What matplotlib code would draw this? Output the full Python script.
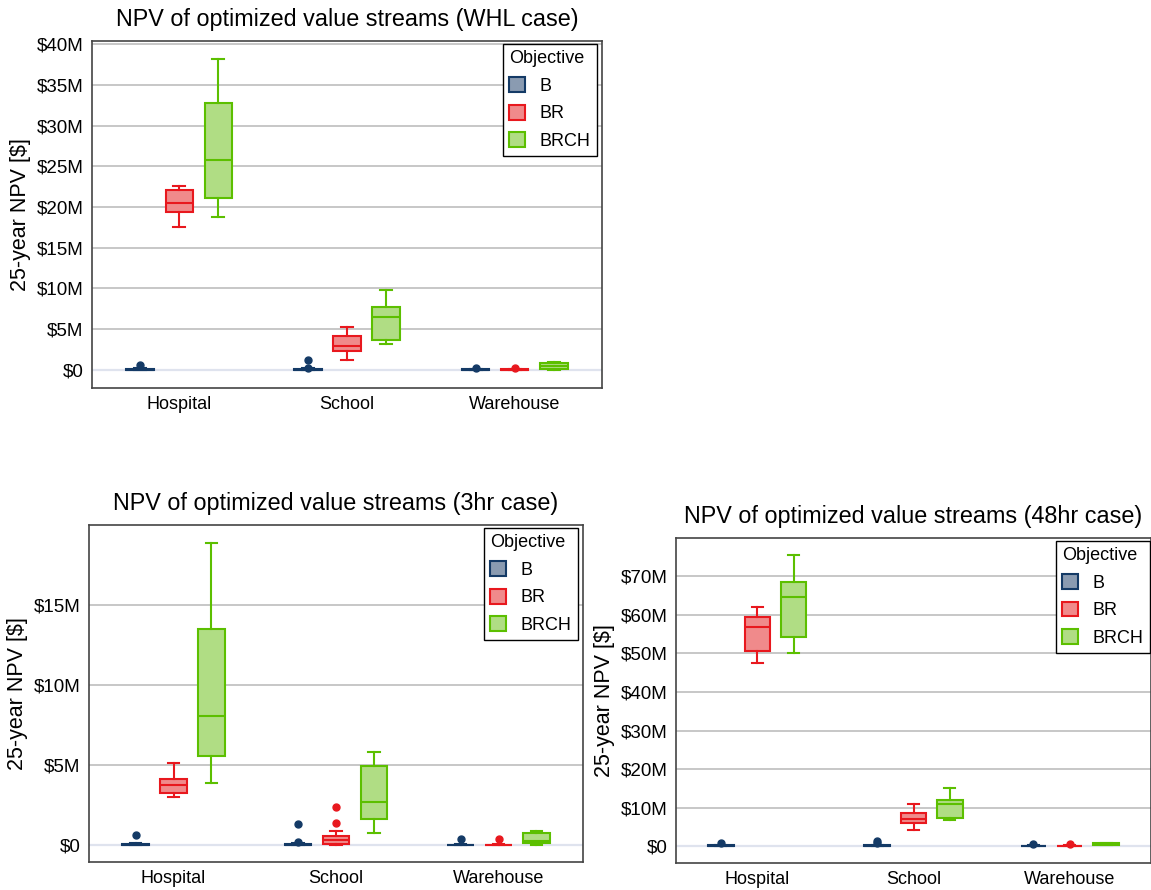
import matplotlib
matplotlib.use('Agg')
import matplotlib.pyplot as plt
from matplotlib.patches import Patch

plt.rcParams['font.family'] = ['Liberation Sans', 'DejaVu Sans']

# Категории и объекты
buildings = ['Hospital', 'School', 'Warehouse']
objectives = ['B', 'BR', 'BRCH']

# Статистика ящиков: [низ усов, Q1, медиана, Q3, верх усов] в $M, по зданиям
whl_B = [[0, 0, 0.02, 0.08, 0.15], [0, 0, 0.02, 0.08, 0.15], [0, 0, 0.01, 0.05, 0.08]]
whl_BR = [[17.6, 19.35, 20.5, 22.1, 22.6], [1.23, 2.3, 2.9, 4.1, 5.2], [0, 0, 0.01, 0.05, 0.08]]
whl_BRCH = [[18.8, 21.1, 25.8, 32.8, 38.2], [3.2, 3.7, 6.5, 7.7, 9.8], [0.0, 0.1, 0.4, 0.8, 0.9]]
whl_fl_B = [[0.53], [0.25, 1.23], [0.18]]
whl_fl_BR = [[], [], [0.15]]
whl_fl_BRCH = [[], [], []]

h3_B = [[0, 0, 0.02, 0.1, 0.15], [0, 0, 0.02, 0.08, 0.12], [0, 0, 0.01, 0.05, 0.08]]
h3_BR = [[3.0, 3.27, 3.75, 4.12, 5.17], [0.0, 0.06, 0.35, 0.56, 0.9], [0, 0, 0.01, 0.05, 0.08]]
h3_BRCH = [[3.9, 5.6, 8.06, 13.5, 18.9], [0.75, 1.63, 2.69, 4.96, 5.8], [0.04, 0.15, 0.27, 0.8, 0.87]]
h3_fl_B = [[0.63], [0.2, 1.35], [0.37]]
h3_fl_BR = [[], [1.4, 2.38], [0.4]]
h3_fl_BRCH = [[], [], []]

h48_B = [[0, 0, 0.1, 0.3, 0.4], [0, 0, 0.1, 0.3, 0.4], [0, 0, 0.05, 0.2, 0.3]]
h48_BR = [[47.4, 50.6, 56.8, 59.5, 62.1], [4.2, 6.0, 7.1, 8.7, 10.9], [0, 0, 0.05, 0.2, 0.3]]
h48_BRCH = [[50.0, 54.3, 64.6, 68.5, 75.6], [6.9, 7.35, 11.1, 12.1, 15.1], [0.3, 0.4, 0.6, 0.9, 1.0]]
h48_fl_B = [[0.86], [0.9, 1.5], [0.5]]
h48_fl_BR = [[], [], [0.5]]
h48_fl_BRCH = [[], [], []]

# Цвета
edge_colors = ['#143a66', '#e8181e', '#5cbf00']
fill_colors = ['#8a9bb1', '#f08a8b', '#b0dd84']

fig = plt.figure(figsize=(11.51, 8.9), dpi=100)
W, H = 1151, 890


def add_ax(x0, y0, x1, y1):
    return fig.add_axes([x0 / W, 1 - y1 / H, (x1 - x0) / W, (y1 - y0) / H])


def draw_panel(ax, title, stats, fliers, ylim, yticks, leg_right):
    offsets = [-0.233, 0.0, 0.233]
    for k in range(3):
        bxp = []
        for i in range(3):
            lo, q1, med, q3, hi = stats[k][i]
            bxp.append(dict(whislo=lo, q1=q1, med=med, q3=q3, whishi=hi,
                            fliers=fliers[k][i], label=''))
        pos = [i + offsets[k] for i in range(3)]
        ec = edge_colors[k]
        ax.bxp(bxp, positions=pos, widths=0.163, capwidths=0.07, patch_artist=True,
               boxprops=dict(facecolor=fill_colors[k], edgecolor=ec, linewidth=1.5),
               medianprops=dict(color=ec, linewidth=1.5),
               whiskerprops=dict(color=ec, linewidth=1.5),
               capprops=dict(color=ec, linewidth=1.5),
               flierprops=dict(marker='o', markerfacecolor=ec, markeredgecolor=ec,
                               markersize=5),
               manage_ticks=False, zorder=3)
    ax.set_xlim(-0.52, 2.52)
    ax.set_ylim(*ylim)
    ax.set_xticks(range(3))
    ax.set_xticklabels(buildings, fontsize=13)
    ax.set_yticks(yticks)
    ax.set_yticklabels(['$0' if v == 0 else '$%dM' % v for v in yticks], fontsize=13.5)
    ax.tick_params(length=0, pad=6)
    for v in yticks:
        if v == 0:
            ax.axhline(v, color='#dfe3ee', linewidth=1.6, zorder=1)
        else:
            ax.axhline(v, color='#bdbdbd', linewidth=1.2, zorder=1)
    for sp in ax.spines.values():
        sp.set_color('#444444')
        sp.set_linewidth(1.2)
    ax.set_title(title, fontsize=16.8, pad=11)
    ax.set_ylabel('25-year NPV [$]', fontsize=15.5)
    handles = [Patch(facecolor=fill_colors[k], edgecolor=edge_colors[k], linewidth=1.5,
                     label=objectives[k]) for k in range(3)]
    leg = ax.legend(handles=handles, title='Objective', loc='upper right',
                    bbox_to_anchor=(leg_right, 0.992), borderaxespad=0,
                    fontsize=13, title_fontsize=13,
                    fancybox=False, framealpha=1, edgecolor='black',
                    handlelength=0.9, handleheight=0.9, handletextpad=0.8,
                    borderpad=0.35, labelspacing=0.55, alignment='left')
    leg.get_frame().set_linewidth(1.0)


ax1 = add_ax(92, 41, 602, 388)
draw_panel(ax1, 'NPV of optimized value streams (WHL case)',
           [whl_B, whl_BR, whl_BRCH], [whl_fl_B, whl_fl_BR, whl_fl_BRCH],
           (-2.25, 40.4), [0, 5, 10, 15, 20, 25, 30, 35, 40], 0.99)

ax2 = add_ax(89, 525, 583, 862)
draw_panel(ax2, 'NPV of optimized value streams (3hr case)',
           [h3_B, h3_BR, h3_BRCH], [h3_fl_B, h3_fl_BR, h3_fl_BRCH],
           (-1.04, 20.0), [0, 5, 10, 15], 0.99)

ax3 = add_ax(676, 538, 1151, 863)
draw_panel(ax3, 'NPV of optimized value streams (48hr case)',
           [h48_B, h48_BR, h48_BRCH], [h48_fl_B, h48_fl_BR, h48_fl_BRCH],
           (-4.3, 79.9), [0, 10, 20, 30, 40, 50, 60, 70], 0.998)

fig.savefig('out.png', dpi=100)
